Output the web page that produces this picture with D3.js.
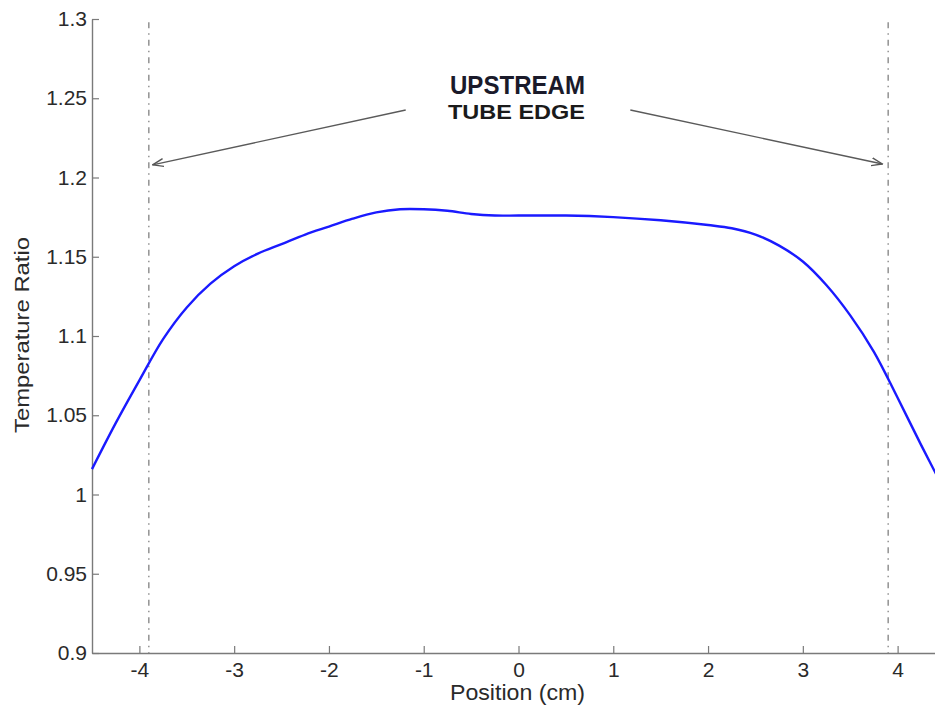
<!DOCTYPE html>
<html>
<head>
<meta charset="utf-8">
<script src="https://cdn.jsdelivr.net/npm/d3@7"></script>
<style>
  html, body { margin: 0; padding: 0; background: #fff; }
  svg { display: block; }
  text { font-family: "Liberation Sans", Arial, sans-serif; }
</style>
</head>
<body>
<svg id="chart" width="935" height="710"></svg>
<script>
// Temperature ratio profile across the tube (position in cm)
const positions = [-4.5, -4.25, -4.0, -3.75, -3.5, -3.25, -3.0, -2.75, -2.5, -2.25, -2.0, -1.75,
                   -1.5, -1.25, -1.0, -0.75, -0.5, -0.25, 0.0, 0.5, 1.0, 1.5, 2.0, 2.25, 2.5,
                   2.75, 3.0, 3.25, 3.5, 3.75, 4.0, 4.25, 4.5];
const ratios = [1.016, 1.045, 1.072, 1.098, 1.118, 1.133, 1.144, 1.152, 1.158, 1.164, 1.169, 1.174,
                1.178, 1.180, 1.180, 1.179, 1.177, 1.176, 1.176, 1.176, 1.175, 1.173, 1.170, 1.168, 1.164,
                1.157, 1.147, 1.132, 1.113, 1.090, 1.061, 1.031, 1.002];

// Tube edge markers and annotation
const edgePositions = [-3.9, 3.9];
const arrowTails = [[-1.19, 1.2426], [1.18, 1.2426]];
const arrowTips = [[-3.86, 1.208], [3.84, 1.2085]];
const annotationLines = ["UPSTREAM", "TUBE EDGE"];

const xTicks = [-4, -3, -2, -1, 0, 1, 2, 3, 4];
const yTicks = [0.9, 0.95, 1.0, 1.05, 1.1, 1.15, 1.2, 1.25, 1.3];

const svg = d3.select("#chart");
const x = d3.scaleLinear().domain([-4.5, 4.5]).range([92, 945]);
const y = d3.scaleLinear().domain([0.9, 1.3]).range([653, 19]);

const axisColor = "#7a7a7a";
const labelColor = "#2a2a2a";
const font = "'Liberation Sans', Arial, sans-serif";

// Left axis, ticks pointing inward
const yAxis = svg.append("g")
  .attr("transform", `translate(${x.range()[0]},0)`)
  .call(d3.axisLeft(y).tickValues(yTicks).tickSizeInner(-7).tickSizeOuter(0)
        .tickPadding(5).tickFormat(d => String(+d.toFixed(2))));
yAxis.select(".domain").attr("stroke", axisColor).attr("stroke-width", 1.4);
yAxis.selectAll(".tick line").attr("stroke", axisColor).attr("stroke-width", 1.2);
yAxis.selectAll(".tick text").attr("fill", labelColor).attr("font-size", 21).attr("font-family", font);

// Bottom axis, ticks pointing inward
const xAxis = svg.append("g")
  .attr("transform", `translate(0,${y.range()[0]})`)
  .call(d3.axisBottom(x).tickValues(xTicks).tickSizeInner(-7).tickSizeOuter(0)
        .tickPadding(9).tickFormat(d => String(d)));
xAxis.select(".domain").attr("stroke", axisColor).attr("stroke-width", 1.4);
xAxis.selectAll(".tick line").attr("stroke", axisColor).attr("stroke-width", 1.2);
xAxis.selectAll(".tick text").attr("fill", labelColor).attr("font-size", 21).attr("font-family", font);

// Axis titles
svg.append("text")
  .attr("x", 450).attr("y", 700)
  .attr("font-size", 22).attr("fill", labelColor)
  .attr("textLength", 135).attr("lengthAdjust", "spacingAndGlyphs")
  .text("Position (cm)");
svg.append("text")
  .attr("transform", `translate(29,433) rotate(-90)`)
  .attr("font-size", 21).attr("fill", labelColor)
  .attr("textLength", 196).attr("lengthAdjust", "spacingAndGlyphs")
  .text("Temperature Ratio");

// Tube edge dash-dot lines
svg.selectAll(".edge").data(edgePositions).enter().append("line")
  .attr("class", "edge")
  .attr("x1", d => x(d)).attr("x2", d => x(d))
  .attr("y1", y(1.298)).attr("y2", y(0.9))
  .attr("stroke", "#6a6a6a").attr("stroke-width", 1.1)
  .attr("stroke-dasharray", "6,5,1.5,5");

// Profile curve
const line = d3.line().x((d, i) => x(positions[i])).y(d => y(d)).curve(d3.curveCatmullRom.alpha(0.5));
svg.append("path")
  .datum(ratios)
  .attr("d", line)
  .attr("fill", "none")
  .attr("stroke", "#1a1aff")
  .attr("stroke-width", 2.4);

// Annotation arrows
svg.append("defs").append("marker")
  .attr("id", "head")
  .attr("viewBox", "0 0 12 10").attr("refX", 11).attr("refY", 5)
  .attr("markerWidth", 12).attr("markerHeight", 10)
  .attr("markerUnits", "userSpaceOnUse")
  .attr("orient", "auto")
  .append("path")
  .attr("d", "M0,1 L11,5 L0,9")
  .attr("fill", "none").attr("stroke", "#555").attr("stroke-width", 1.4);

svg.selectAll(".arrow").data(arrowTails).enter().append("line")
  .attr("class", "arrow")
  .attr("x1", d => x(d[0])).attr("y1", d => y(d[1]))
  .attr("x2", (d, i) => x(arrowTips[i][0])).attr("y2", (d, i) => y(arrowTips[i][1]))
  .attr("stroke", "#5a5a5a").attr("stroke-width", 1.4)
  .attr("marker-end", "url(#head)");

// Annotation text
svg.append("text")
  .attr("x", 450).attr("y", 94)
  .attr("font-size", 25).attr("font-weight", "bold").attr("fill", "#1a1a2a")
  .attr("textLength", 135).attr("lengthAdjust", "spacingAndGlyphs")
  .text(annotationLines[0]);
svg.append("text")
  .attr("x", 448).attr("y", 119)
  .attr("font-size", 21).attr("font-weight", "bold").attr("fill", "#1a1a1a")
  .attr("textLength", 137).attr("lengthAdjust", "spacingAndGlyphs")
  .text(annotationLines[1]);
</script>
</body>
</html>
